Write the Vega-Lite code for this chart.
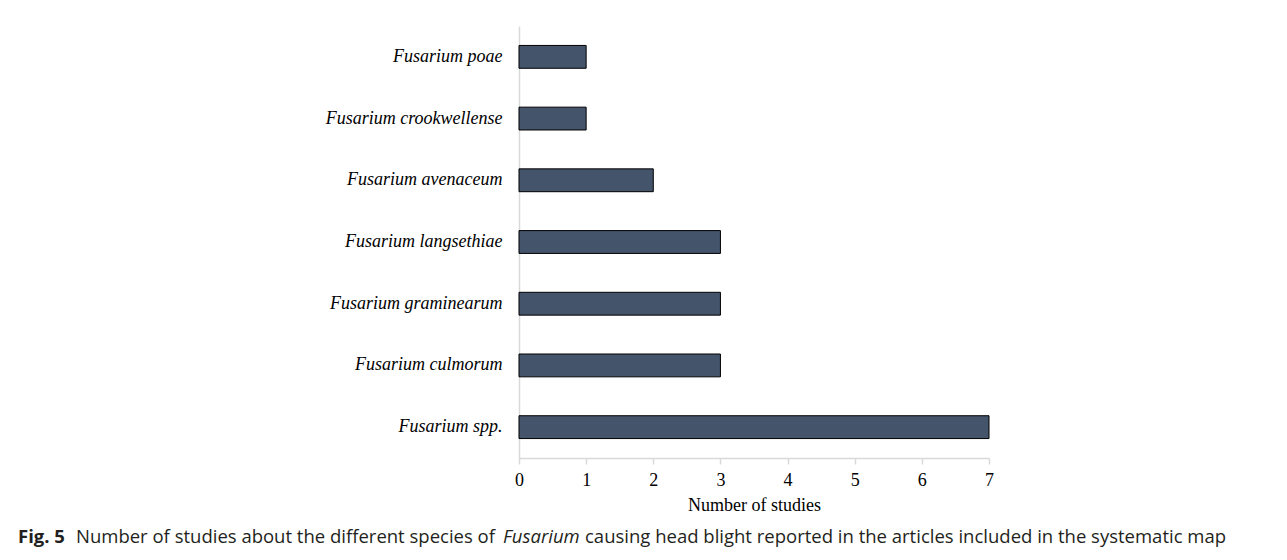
{
  "$schema": "https://vega.github.io/schema/vega-lite/v6.json",
  "padding": {"left": 18, "top": 26, "right": 5, "bottom": 5},
  "background": "white",
  "title": {"text": "causing head blight reported in the articles included in the systematic map", "orient": "bottom", "anchor": "start", "frame": "bounds", "offset": 0, "dy": -18.5, "dx": 567, "font": "Open Sans", "fontSize": 18.5, "fontWeight": "normal", "color": "#231f20"},
  "vconcat": [
    {
      "title": {"text": "Fusarium", "orient": "bottom", "anchor": "start", "frame": "bounds", "offset": 0, "dy": -18.5, "dx": 485, "font": "Open Sans", "fontSize": 18.5, "fontWeight": "normal", "fontStyle": "italic", "color": "#231f20"},
      "vconcat": [
        {
          "title": {"text": "Number of studies about the different species of", "orient": "bottom", "anchor": "start", "frame": "bounds", "offset": 0, "dy": -18.5, "dx": 58, "font": "Open Sans", "fontSize": 18.5, "fontWeight": "normal", "color": "#231f20"},
          "vconcat": [
            {
              "title": {"text": "Fig. 5", "orient": "bottom", "anchor": "start", "frame": "bounds", "offset": 14, "font": "Open Sans", "fontSize": 18.5, "fontWeight": "bold", "color": "#231f20"},
              "width": 470,
              "height": 432,
              "data": {"values": [
                {"species": "Fusarium poae", "studies": 1},
                {"species": "Fusarium crookwellense", "studies": 1},
                {"species": "Fusarium avenaceum", "studies": 2},
                {"species": "Fusarium langsethiae", "studies": 3},
                {"species": "Fusarium graminearum", "studies": 3},
                {"species": "Fusarium culmorum", "studies": 3},
                {"species": "Fusarium spp.", "studies": 7}
              ]},
              "mark": {"type": "bar", "fill": "#44546a", "stroke": "#000000", "strokeWidth": 1},
              "encoding": {
                "y": {"field": "species", "type": "nominal", "sort": null,
                  "scale": {"paddingInner": 0.63, "paddingOuter": 0.315},
                  "axis": {"title": null, "ticks": false, "domainColor": "#d9d9d9", "domainWidth": 1.5, "labelFont": "Liberation Serif", "labelFontStyle": "italic", "labelFontSize": 18, "labelColor": "#000000", "labelPadding": 17, "labelLimit": 400, "minExtent": 501, "maxExtent": 501}},
                "x": {"field": "studies", "type": "quantitative",
                  "scale": {"domain": [0, 7], "nice": false},
                  "axis": {"values": [0, 1, 2, 3, 4, 5, 6, 7], "grid": false, "labelFlush": false, "domainColor": "#d9d9d9", "domainWidth": 1.5, "tickColor": "#d9d9d9", "tickSize": 6, "tickWidth": 1.5, "labelFont": "Liberation Serif", "labelFontSize": 18, "labelColor": "#000000", "labelPadding": 7, "title": "Number of studies", "titleFont": "Liberation Serif", "titleFontSize": 18, "titleFontWeight": "normal", "titleColor": "#000000", "titlePadding": 7}}
              }
            }
          ]
        }
      ]
    }
  ],
  "config": {"view": {"stroke": null}}
}
